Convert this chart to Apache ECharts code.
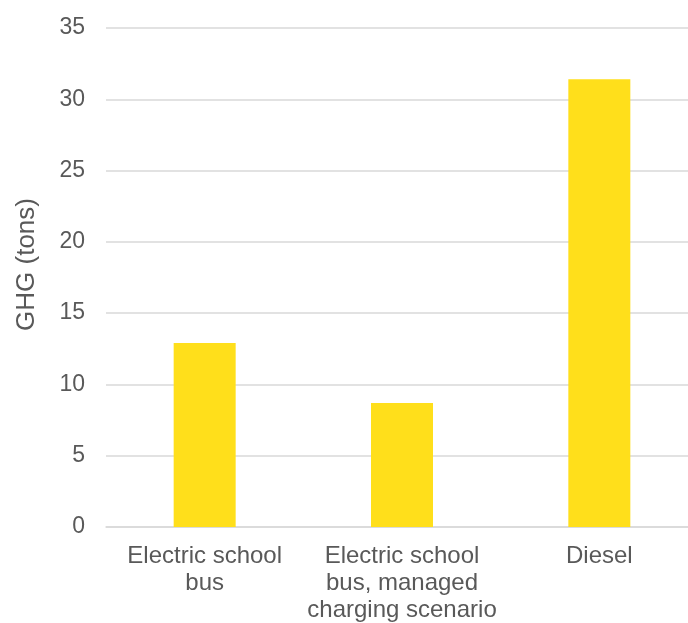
<!DOCTYPE html>
<html><head><meta charset="utf-8">
<script src="https://cdn.jsdelivr.net/npm/echarts@6/dist/echarts.min.js"></script>
<style>html,body{margin:0;padding:0;background:#fff;overflow:hidden;width:688px;height:623px}#c{width:698px;height:623px}</style>
</head><body><div id="c"></div>
<script>
const categories = ["Electric school\nbus", "Electric school\nbus, managed\ncharging scenario", "Diesel"];
const values = [12.9, 8.7, 31.4];
const yTicks = {min: 0, max: 35, interval: 5};
const yName = "GHG (tons)";

const chart = echarts.init(document.getElementById('c'));
chart.setOption({
  animation: false,
  grid: {left: 106, right: 0, top: 28, bottom: 96, containLabel: false, outerBoundsMode: 'none'},
  xAxis: {
    type: 'category', data: categories,
    axisLine: {show: true, lineStyle: {color: '#d9d9d9', width: 1.5}},
    axisTick: {show: false},
    axisLabel: {color: '#595959', fontSize: 24, fontFamily: 'Liberation Sans, Arial', lineHeight: 27, margin: 16, interval: 0}
  },
  yAxis: {
    type: 'value', min: yTicks.min, max: yTicks.max, interval: yTicks.interval,
    name: yName, nameLocation: 'middle', nameGap: 66, nameRotate: 90,
    nameTextStyle: {color: '#595959', fontSize: 26, fontFamily: 'Liberation Sans, Arial', padding: [0, 0, 0, 26]},
    axisLine: {show: false}, axisTick: {show: false},
    axisLabel: {color: '#595959', fontSize: 23, fontFamily: 'Liberation Sans, Arial', margin: 21},
    splitLine: {lineStyle: {color: '#d9d9d9', width: 1.5}}
  },
  series: [{type: 'bar', data: values, barWidth: 62, itemStyle: {color: '#FFDF1B'}}]
});
</script></body></html>
